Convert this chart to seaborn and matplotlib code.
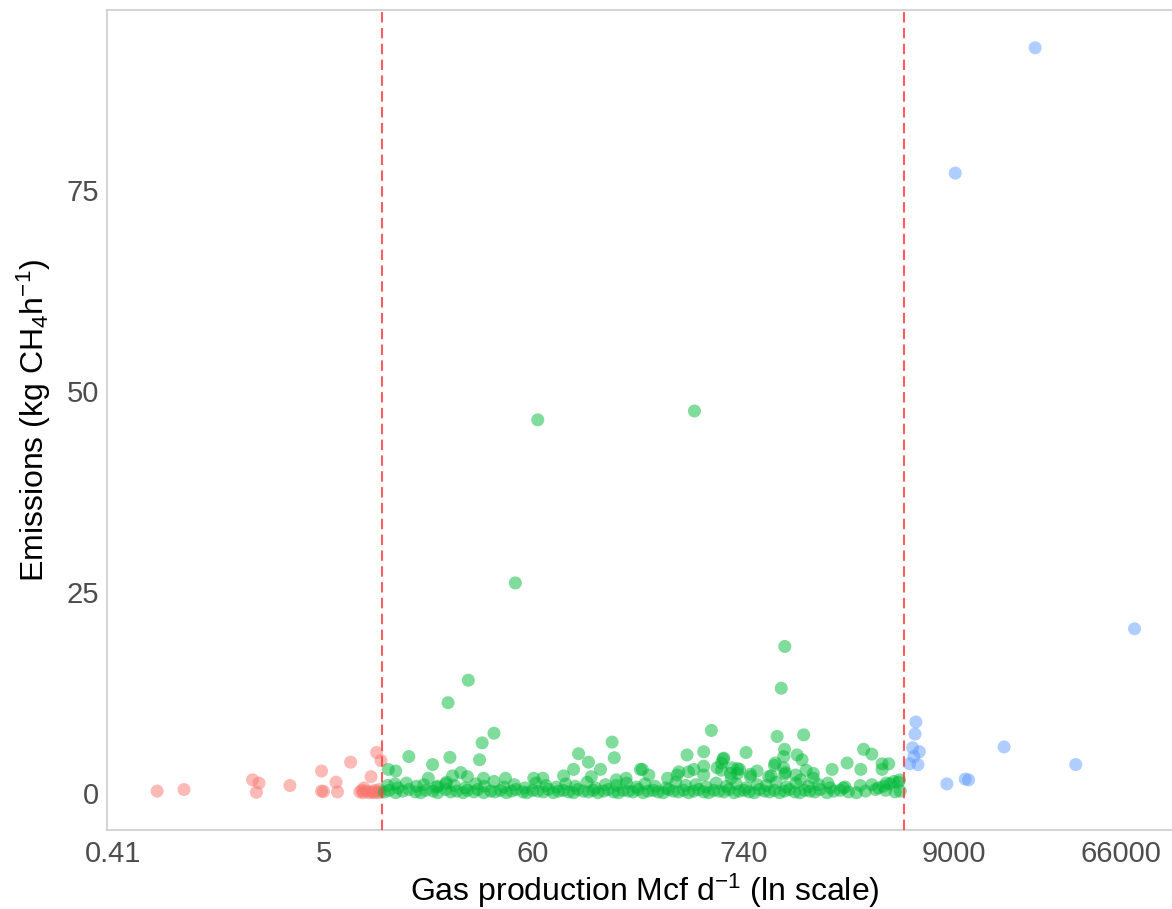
import numpy as np
import pandas as pd
import matplotlib
matplotlib.use("Agg")
import matplotlib.pyplot as plt
import seaborn as sns

# ---------------- data ----------------
red_x = [0.69, 0.95, 2.15, 2.32, 2.25, 3.35, 4.88, 4.88, 5.0, 5.8, 5.9, 6.9, 8.8, 9.4, 9.9,
         8.1, 7.7, 8.0, 8.3, 8.6, 8.9, 9.2, 9.5, 9.8, 9.7, 7.9, 9.1]
red_y = [0.2, 0.4, 1.6, 1.2, 0.05, 0.9, 2.7, 0.2, 0.15, 1.3, 0.1, 3.8, 2.0, 5.0, 4.0,
         0.6, 0.1, 0.0, 0.2, 0.0, 0.1, 0.3, 0.0, 0.1, 0.4, 0.3, 0.0]

green_x = [
    # high / scattered
    64, 49, 413, 1210, 1160, 28, 22, 38, 33, 32, 13.8, 22.5, 18.3, 10.8, 11.8, 17.4, 11.7,
    23.2, 25.6, 27.7, 21.4, 19.5, 33.6, 43.6, 61, 68,
    505, 155, 159, 104, 117, 135, 378, 461, 581, 646, 222, 87, 98, 240, 336, 410, 461, 541,
    121, 163, 183, 300, 640, 691,
    1105, 1515, 763, 1207, 1195, 1400, 1486, 3090, 3410, 2540, 3850, 4170, 3850, 2125, 2990,
    1195, 1080, 1070, 1207, 2020, 2425, 3410, 4430, 4740, 3920, 4050, 585, 570, 706, 804,
    1000, 1460, 1700, 343, 217,
    385, 461, 570, 634, 690, 806, 870, 1030, 1220, 1380, 1560, 1700,
    # band near zero
    10.3, 10.9, 11.8, 12.8, 13.8, 14.9, 15.9, 16.9, 18.4, 19.5, 21.4, 22.7, 24.4, 26.3, 27.7,
    29.9, 31.3, 33.6, 36.5, 38.5, 41.1, 44.0, 46.9, 49.4, 53.6, 56.3, 60.3, 64.0, 68.5, 72.7,
    77.0, 82.0, 87.0, 92.4, 98.0, 103, 110, 117, 124, 131, 140, 148, 158, 167, 177, 188, 199,
    211, 224, 238, 253, 268, 285, 303, 321, 341, 363, 385, 409, 434, 461, 490, 520, 552, 587,
    623, 662, 703, 746, 792, 842, 894, 949, 1008, 1070, 1137, 1207, 1282, 1362, 1446, 1536,
    1631, 1732, 1840, 2000, 2170, 2343, 2580, 2840, 3160, 3560, 4020, 4500, 4780,
    # second layer
    10.7, 12.1, 13.4, 15.1, 16.5, 19.1, 21.6, 23.7, 27.0, 30.6, 33.9, 38.0, 42.7, 48.4, 54.9,
    62.5, 70.5, 80.0, 89.3, 100, 115, 127, 143, 163, 184, 207, 229, 258, 295, 331, 372, 419,
    475, 534, 604, 679, 763, 870, 970, 1090, 1230, 1380, 1600, 1810, 2080, 2480, 2970, 3690,
    4240, 4680,
]
green_y = [
    46.4, 26.1, 47.5, 18.2, 13.0, 14.0, 11.2, 7.4, 6.2, 4.1, 4.5, 4.4, 3.5, 2.9, 2.7, 1.8, 1.1,
    2.1, 2.5, 2.0, 1.1, 0.8, 1.8, 1.8, 1.8, 1.8,
    7.75, 6.3, 4.35, 4.85, 3.8, 2.9, 4.7, 5.1, 4.2, 3.1, 2.9, 2.1, 2.9, 2.2, 2.2, 2.9, 3.3, 3.1,
    2.0, 1.6, 1.8, 1.8, 1.8, 2.4,
    7.0, 7.2, 5.0, 5.4, 4.5, 4.7, 4.1, 5.4, 4.8, 3.7, 3.6, 3.6, 2.9, 2.9, 2.9,
    3.1, 3.7, 3.4, 2.3, 1.2, 0.6, 1.0, 1.4, 1.6, 0.8, 1.2, 4.3, 3.7, 2.9, 2.0,
    2.0, 1.6, 1.8, 2.6, 2.9,
    2.6, 2.2, 2.8, 2.4, 3.0, 2.3, 2.7, 2.1, 2.5, 2.2, 2.8, 2.4,
    0.1, 0.3, 0.0, 0.2, 0.4, 0.1, 0.0, 0.3, 0.2, 0.0, 0.4, 0.1, 0.2, 0.0, 0.3,
    0.1, 0.4, 0.0, 0.2, 0.1, 0.3, 0.0, 0.2, 0.4, 0.1, 0.0, 0.3, 0.2, 0.1, 0.4,
    0.0, 0.2, 0.3, 0.1, 0.0, 0.4, 0.2, 0.1, 0.3, 0.0, 0.2, 0.4, 0.1, 0.0, 0.3, 0.2, 0.1,
    0.4, 0.0, 0.2, 0.3, 0.1, 0.0, 0.4, 0.2, 0.1, 0.3, 0.0, 0.2, 0.4, 0.1, 0.0, 0.3, 0.2, 0.1,
    0.4, 0.0, 0.2, 0.3, 0.1, 0.0, 0.4, 0.2, 0.1, 0.3, 0.0, 0.2, 0.4, 0.1, 0.0, 0.3,
    0.2, 0.1, 0.4, 0.0, 0.2, 0.3, 0.1, 0.0, 0.2, 0.4, 0.3, 0.1, 0.2,
    0.9, 0.6, 1.2, 0.8, 1.0, 0.7, 1.3, 0.9, 0.6, 1.1, 0.8, 1.4, 0.7, 1.0, 0.6,
    1.2, 0.9, 0.7, 1.1, 0.8, 1.3, 0.6, 1.0, 0.9, 1.2, 0.7, 1.1, 0.8, 0.6, 1.3, 0.9, 1.0,
    0.7, 1.2, 0.8, 1.1, 0.6, 1.0, 0.9, 1.3, 0.7, 1.2, 0.8, 1.0, 0.6, 0.7, 0.9, 0.6,
    1.1, 1.3,
]

blue_x = [77700, 5760, 5700, 5540, 6000, 5620, 5340, 5900, 16450, 38600, 8330, 10360, 10780,
          23800, 9200]
blue_y = [20.4, 8.8, 7.3, 5.6, 5.1, 4.5, 3.6, 3.5, 5.7, 3.5, 1.1, 1.7, 1.6,
          92.7, 77.1]

thresholds = [10, 5000]
x_tick_values = [0.41, 5, 60, 740, 9000, 66000]
x_tick_labels = ["0.41", "5", "60", "740", "9000", "66000"]
y_tick_values = [0, 25, 50, 75]
group_names = ["low", "mid", "high"]
group_colors = ["#F8766D", "#00BA38", "#619CFF"]

# ---------------- build table ----------------
df = pd.concat([
    pd.DataFrame({"gas": red_x, "em": red_y, "grp": group_names[0]}),
    pd.DataFrame({"gas": green_x, "em": green_y, "grp": group_names[1]}),
    pd.DataFrame({"gas": blue_x, "em": blue_y, "grp": group_names[2]}),
], ignore_index=True)

sns.set_theme(style="white")
plt.rcParams["font.family"] = ["Liberation Sans", "DejaVu Sans"]
plt.rcParams["mathtext.default"] = "regular"

W, H = 1172, 909
fig = plt.figure(figsize=(W / 100, H / 100), dpi=100)
ax = fig.add_axes([107 / W, 1 - 830 / H, (1183 - 107) / W, (830 - 10) / H])

sns.scatterplot(data=df, x="gas", y="em", hue="grp",
                palette=dict(zip(group_names, group_colors)),
                s=88, alpha=0.5, linewidth=0, legend=False, ax=ax, zorder=3)

for t in thresholds:
    ax.axvline(t, color="#FF4040", lw=1.5, ls=(0, (5, 2.6)), alpha=0.85, zorder=4)

ax.set_xscale("log")
ax.set_xlim(0.380, 138300)
ax.set_ylim(-4.64, 97.4)
ax.set_xticks(x_tick_values)
ax.set_xticklabels(x_tick_labels)
ax.xaxis.set_minor_locator(matplotlib.ticker.NullLocator())
ax.set_yticks(y_tick_values)
ax.set_yticklabels([str(v) for v in y_tick_values])

ax.grid(False)
axis_col = "#C9C9C9"
for side in ["left", "bottom", "top"]:
    ax.spines[side].set_visible(True)
    ax.spines[side].set_color(axis_col)
    ax.spines[side].set_linewidth(1.1)
ax.spines["right"].set_visible(False)

ax.tick_params(axis="both", which="major", direction="out", length=3, width=1.0,
               color=axis_col, labelcolor="#4D4D4D", labelsize=21)
ax.tick_params(axis="x", pad=4)
ax.tick_params(axis="y", pad=2.5)

ax.set_xlabel("Gas production Mcf d$^{-1}$ (ln scale)", fontsize=23, color="black", labelpad=3)
ax.set_ylabel("Emissions (kg CH$_4$h$^{-1}$)", fontsize=23, color="black", labelpad=10)

fig.savefig("out.png", dpi=100)
